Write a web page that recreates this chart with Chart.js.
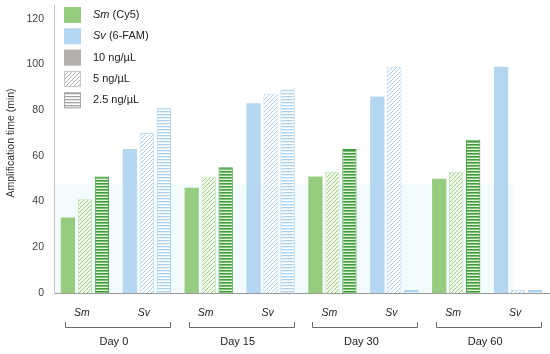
<!DOCTYPE html>
<html>
<head>
<meta charset="utf-8">
<script src="https://cdn.jsdelivr.net/npm/chart.js@4.4.1/dist/chart.umd.min.js"></script>
<style>
  html, body { margin: 0; padding: 0; background: #fff; }
  #wrap { width: 550px; height: 354px; }
</style>
</head>
<body>
<div id="wrap"><canvas id="chart" width="550" height="354"></canvas></div>
<script>
// values (amplification time, min)
const categories = ['Sm', 'Sv', 'Sm', 'Sv', 'Sm', 'Sv', 'Sm', 'Sv'];
const dayLabels = ['Day 0', 'Day 15', 'Day 30', 'Day 60'];
const seriesNames = ['10 ng/µL', '5 ng/µL', '2.5 ng/µL'];
const conc10 = [33, 63, 46, 83, 51, 86, 50, 99];
const conc5 = [41, 70, 51, 87, 53, 99, 53, 1.3];
const conc25 = [51, 81, 55, 89, 63, 1.3, 67, 1.3];
const yTicks = [0, 20, 40, 60, 80, 100, 120];
const yTitle = 'Amplification time (min)';

const FONT = '"Liberation Sans", Arial, sans-serif';

function makePattern(w, h, bg, draw) {
  const c = document.createElement('canvas');
  c.width = w; c.height = h;
  const x = c.getContext('2d');
  x.fillStyle = bg;
  x.fillRect(0, 0, w, h);
  draw(x);
  return x.createPattern(c, 'repeat');
}
function hatch(line, bg) {
  return makePattern(4, 4, bg, x => {
    x.strokeStyle = line; x.lineWidth = 1;
    x.beginPath();
    x.moveTo(0, 4); x.lineTo(4, 0);
    x.moveTo(-1, 1); x.lineTo(1, -1);
    x.moveTo(3, 5); x.lineTo(5, 3);
    x.stroke();
  });
}
function stripes(line, bg, thick) {
  return makePattern(4, 3, bg, x => { x.fillStyle = line; x.fillRect(0, 0, 4, thick); });
}

const smSolid = '#96cc80', svSolid = '#b4d6f0';
const smHatch = hatch('#9ccf86', '#f2faee'), svHatch = hatch('#a9cfec', '#ffffff');
const smStripe = stripes('#3f9b3c', '#e2f3d8', 1.6), svStripe = stripes('#a9d0ec', '#ffffff', 1.3);
const isSm = categories.map(c => c === 'Sm');

const datasets = [
  { label: seriesNames[0], data: conc10,
    backgroundColor: isSm.map(s => s ? smSolid : svSolid), borderWidth: 0 },
  { label: seriesNames[1], data: conc5,
    backgroundColor: isSm.map(s => s ? smHatch : svHatch),
    borderColor: isSm.map(s => s ? '#c3e2b3' : '#c4def2'), borderWidth: 1 },
  { label: seriesNames[2], data: conc25,
    backgroundColor: isSm.map(s => s ? smStripe : svStripe),
    borderColor: isSm.map(s => s ? '#3f9b3c' : '#a9d0ec'), borderWidth: 1 }
];

// faint cyan tint behind the lower part of the plot
const bandPlugin = {
  id: 'band',
  beforeDatasetsDraw(chart) {
    const { ctx, chartArea: a, scales: { x, y } } = chart;
    const top = y.getPixelForValue(47.6);
    ctx.save();
    ctx.fillStyle = '#f2fcfc';
    ctx.fillRect(a.left + 1, top, x.getPixelForValue(7) - 6 - a.left, y.getPixelForValue(0) - top);
    ctx.restore();
  }
};

// y title, drawn by hand so it sits a little above centre like the source
const yTitlePlugin = {
  id: 'yTitle',
  afterDraw(chart) {
    const { ctx, chartArea: a } = chart;
    ctx.save();
    ctx.translate(11, (a.top + a.bottom) / 2 - 6);
    ctx.rotate(-Math.PI / 2);
    ctx.textAlign = 'center';
    ctx.textBaseline = 'middle';
    ctx.fillStyle = '#303030';
    ctx.font = '10.5px ' + FONT;
    ctx.fillText(yTitle, 0, 0);
    ctx.restore();
  }
};

// legend box in the top-left corner
const legendItems = [
  { fill: smSolid, italic: 'Sm', text: ' (Cy5)' },
  { fill: svSolid, italic: 'Sv', text: ' (6-FAM)' },
  { fill: '#b2aeab', text: seriesNames[0] },
  { fill: hatch('#b0b0b0', '#ffffff'), border: '#c6c6c6', text: seriesNames[1] },
  { fill: stripes('#a2a2a2', '#ffffff', 1.3), border: '#a8a8a8', text: seriesNames[2] }
];
const legendPlugin = {
  id: 'boxLegend',
  afterDraw(chart) {
    const { ctx, chartArea: a } = chart;
    ctx.save();
    ctx.textBaseline = 'middle';
    legendItems.forEach((it, i) => {
      const sx = a.left + 10, sy = a.top + 2 + i * 21.3;
      ctx.fillStyle = it.fill;
      ctx.fillRect(sx, sy, 17, 16);
      if (it.border) {
        ctx.strokeStyle = it.border; ctx.lineWidth = 1;
        ctx.strokeRect(sx + 0.5, sy + 0.5, 16, 15);
      }
      let tx = sx + 29;
      ctx.fillStyle = '#222';
      if (it.italic) {
        ctx.font = 'italic 11px ' + FONT;
        ctx.fillText(it.italic, tx, sy + 8);
        tx += ctx.measureText(it.italic).width;
      }
      ctx.font = '11px ' + FONT;
      ctx.fillText(it.text, tx, sy + 8);
    });
    ctx.restore();
  }
};

// Sm / Sv labels, brackets and day labels under the axis
const groupAxisPlugin = {
  id: 'groupAxis',
  afterDraw(chart) {
    const { ctx, chartArea: a, scales: { x } } = chart;
    const b = a.bottom;
    ctx.save();
    ctx.fillStyle = '#222';
    ctx.textAlign = 'center';
    ctx.textBaseline = 'middle';
    ctx.font = 'italic 10.5px ' + FONT;
    categories.forEach((c, i) => ctx.fillText(c, x.getPixelForValue(i) - 3, b + 20));
    ctx.font = '11px ' + FONT;
    ctx.strokeStyle = '#6a6a6a';
    ctx.lineWidth = 1;
    dayLabels.forEach((d, k) => {
      const c0 = x.getPixelForValue(2 * k), c1 = x.getPixelForValue(2 * k + 1);
      const l = Math.round(c0 - 20) + 0.5, r = Math.round(c1 + 23) + 0.5;
      ctx.beginPath();
      ctx.moveTo(l, b + 29); ctx.lineTo(l, b + 34.5);
      ctx.lineTo(r, b + 34.5); ctx.lineTo(r, b + 29);
      ctx.stroke();
      ctx.fillText(d, (c0 + c1) / 2 - 2, b + 49);
    });
    ctx.restore();
  }
};

new Chart(document.getElementById('chart').getContext('2d'), {
  type: 'bar',
  data: { labels: categories, datasets },
  options: {
    responsive: false,
    animation: false,
    devicePixelRatio: 1,
    layout: { padding: { top: 5, right: 1, bottom: 0, left: 0 } },
    datasets: { bar: { categoryPercentage: 0.824, barPercentage: 0.84 } },
    plugins: { legend: { display: false }, tooltip: { enabled: false } },
    scales: {
      x: {
        grid: { display: false },
        border: { display: true, color: '#9a9a9a', width: 1 },
        ticks: { display: false },
        afterFit: s => { s.height = 61; s.paddingLeft = 0; s.paddingRight = 0; }
      },
      y: {
        min: 0, max: 126,
        grid: { display: false, drawTicks: false },
        border: { display: true, color: '#c4c4c4', width: 1 },
        ticks: { padding: 10, color: '#404040', font: { family: FONT, size: 10.5 } },
        afterBuildTicks: s => { s.ticks = yTicks.map(v => ({ value: v })); },
        afterFit: s => { s.width = 54; s.paddingTop = 0; s.paddingBottom = 0; }
      }
    }
  },
  plugins: [bandPlugin, yTitlePlugin, legendPlugin, groupAxisPlugin]
});
</script>
</body>
</html>
